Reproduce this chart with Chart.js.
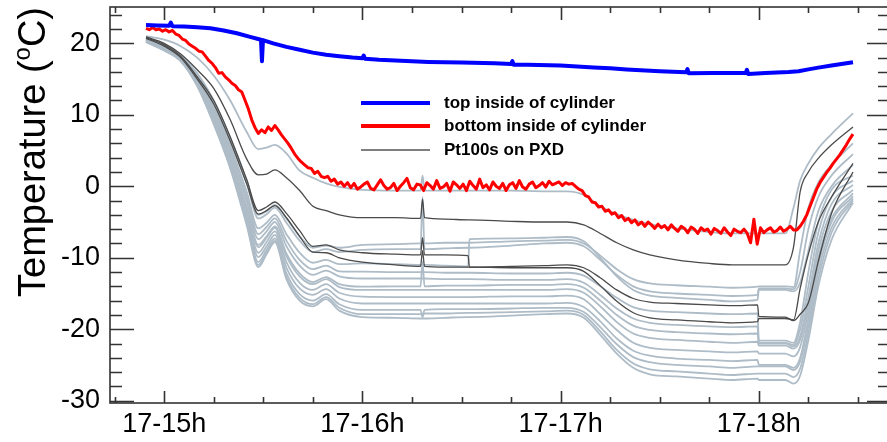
<!DOCTYPE html>
<html>
<head>
<meta charset="utf-8">
<script src="https://cdn.jsdelivr.net/npm/chart.js@4.4.1/dist/chart.umd.min.js"></script>
<style>
  html, body { margin: 0; padding: 0; background: #fff; overflow: hidden; }
  #wrap { position: relative; width: 889px; height: 442px; }
</style>
</head>
<body>
<div id="wrap"><canvas id="chart"></canvas></div>
<script>
// time is minutes since 14:00 on day 17
const hourTicks = [60, 120, 180, 240];
const hourLabels = ['17-15h', '17-16h', '17-17h', '17-18h'];
const yTicks = [-30, -20, -10, 0, 10, 20];

// blue: top inside of cylinder
const topTimes = [54.5, 58, 61.5, 62, 62.5, 66, 70, 74, 78, 82, 86, 89.3, 89.6, 89.9, 93, 97, 101, 105, 109, 113, 117, 120, 120.4, 120.8, 125, 130, 140, 150, 160, 165, 165.4, 165.8, 170, 180, 185, 190, 195, 200, 210, 218, 218.4, 218.8, 226, 232, 236, 236.4, 236.8, 242, 249, 252, 255, 258, 262, 265, 268.5];
const topTemp = [22.55, 22.5, 22.45, 22.9, 22.4, 22.35, 22.25, 22.1, 21.8, 21.4, 20.9, 20.5, 17.5, 20.45, 20.0, 19.5, 19.1, 18.7, 18.4, 18.2, 18.0, 17.9, 18.3, 17.85, 17.7, 17.6, 17.4, 17.3, 17.2, 17.1, 17.5, 17.0, 17.0, 16.9, 16.75, 16.6, 16.5, 16.35, 16.1, 15.95, 16.4, 15.8, 15.85, 15.85, 15.85, 16.3, 15.7, 15.85, 16.0, 16.1, 16.35, 16.6, 16.9, 17.1, 17.35];

// red: bottom inside of cylinder, one reading per minute from 14:54.5
const bottomStart = 54.5;
const bottomStep = 1;
const bottomTemp = [
  22.1, 21.9, 22.2, 21.9, 22.0, 21.7, 21.9, 21.6, 21.8, 21.3,
  21.1, 20.6, 20.4, 19.9, 19.6, 19.3, 18.9, 18.8, 18.2, 17.6,
  17.2, 16.6, 15.8, 15.9, 15.3, 14.9, 14.4, 14.1, 13.5, 13.2,
  12.0, 10.8, 9.3, 8.2, 7.4, 7.9, 7.5, 8.3, 7.8, 8.5,
  7.9, 7.2, 6.6, 6.0, 5.3, 4.5, 3.9, 3.4, 3.0, 2.6,
  2.5, 1.8, 2.1, 1.4, 1.2, 1.4, 0.7, 1.0, 0.3, 0.6,
  0.0, 0.5, -0.2, 0.4, -0.4,
  -0.1, 0.3, 0.6, -0.3, -0.5, 0.2, 0.9, 0.1, -0.4, -0.2,
  0.4, -0.6, 0.0, 0.5, 1.1, -0.2, -0.5, 0.3, 0.2, -0.6,
  0.5, 0.1, -0.4, 0.8, -0.3, -0.1, 0.4, -0.7, 0.6, 0.2,
  -0.3, 0.3, -0.6, 0.7, 0.1, -0.4, 1.0, -0.2, 0.2, -0.5,
  0.6, 0.0, -0.3, 0.4, -0.6, 0.2, 0.5, -0.3, 0.8, -0.1,
  -0.4, 0.3, 0.6, -0.2, 0.1, 0.5, -0.1, 0.7, 0.2, 0.4,
  0.6, 0.1, 0.5, 0.3, 0.4, 0.0,
  -0.4, -0.6, -1.3, -1.5, -2.2, -2.3, -2.9, -2.8, -3.5, -3.3,
  -3.9, -3.7, -4.4, -4.1, -4.8, -4.5, -5.1, -4.7, -5.4, -5.0,
  -5.6, -5.0, -5.4, -5.9, -5.3, -5.8, -5.5, -6.1, -5.4, -5.9,
  -6.3, -5.6, -5.9, -6.5, -5.7, -6.0, -6.6, -5.8, -6.2, -6.0,
  -6.7, -5.9, -6.2, -6.6, -5.8, -6.4, -6.9, -6.0, -6.3, -6.5,
  -6.0, -6.6, -7.9, -4.6, -8.1, -5.8, -6.5, -6.1, -5.8, -6.4,
  -6.2, -5.7, -6.3, -6.0, -5.6, -6.1,
  -6.1, -5.6, -4.9, -4.0, -2.8, -1.6, -0.4, 0.5, 1.2, 1.9,
  2.5, 3.2, 3.8, 4.4, 5.1, 5.8, 6.6, 7.3
];

// Pt100 sensors on the PXD
const pxdTimes = [54.5, 60, 65, 70, 75, 80, 85, 88.5, 91, 93.5, 97, 101, 105, 109, 113, 120, 130, 137.6, 138.2, 138.8, 145, 152, 152.4, 165, 175, 182, 187, 192, 197, 202, 207, 215, 225, 232, 239.6, 240, 248, 250.5, 252.5, 255, 258, 262, 268.5];

const dark1 = [20.9, 20.0, 18.5, 16.3, 13.7, 9.3, 3.8, 1.6, 1.7, 2.3, 1.2, -0.6, -2.8, -3.4, -4.0, -4.4, -4.4, -4.5, -1.8, -4.4, -4.6, -4.7, -4.7, -4.9, -5.0, -5.0, -5.4, -6.6, -7.9, -8.9, -9.6, -10.3, -10.8, -11.0, -11.0, -11.0, -11.0, -8.5, -0.8, 2.0, 3.9, 5.8, 8.3];
const dark2 = [20.8, 19.8, 18.2, 15.3, 12.0, 6.9, 0.9, -3.4, -2.9, -2.2, -3.8, -6.2, -8.4, -8.2, -8.9, -9.3, -9.5, -9.6, -7.2, -9.6, -9.6, -9.7, -11.3, -11.2, -11.1, -11.0, -11.4, -12.8, -14.5, -15.7, -16.2, -16.4, -16.6, -16.7, -16.6, -18.2, -18.3, -18.8, -17.9, -16.3, -10.5, -3.8, 2.0];
const dark3 = [20.7, 19.6, 18.0, 15.0, 11.5, 6.3, 0.3, -3.9, -3.4, -2.7, -4.4, -7.0, -9.2, -9.3, -10.0, -10.6, -11.0, -11.2, -9.0, -11.2, -11.3, -11.3, -11.3, -11.4, -11.4, -11.4, -11.9, -13.9, -16.1, -17.7, -18.4, -18.7, -18.95, -19.1, -18.95, -18.5, -18.5, -18.7, -14.3, -9.5, -5.0, -1.5, 3.2];

const light01 = [21.0, 20.5, 19.6, 18.0, 15.5, 12.0, 7.6, 5.2, 5.4, 5.8, 4.6, 2.2, 1.2, 0.4, -0.1, -0.5, -0.6, -0.6, 1.5, -0.6, -0.6, -0.6, -0.6, -0.6, -0.7, -0.7, -1.2, -2.8, -3.9, -4.7, -5.3, -5.9, -6.4, -6.6, -6.6, -6.6, -6.6, -3.0, 0.8, 3.2, 5.3, 7.3, 10.2];
const light02 = [20.7, 19.8, 18.3, 15.8, 12.0, 6.8, 0.8, -4.0, -3.5, -2.6, -4.5, -7.0, -8.6, -8.3, -8.6, -8.2, -8.1, -8.0, -8.0, -8.0, -7.9, -7.9, -7.9, -7.7, -7.6, -7.5, -8.0, -9.7, -11.6, -13.0, -13.6, -13.85, -14.05, -14.2, -14.05, -14.0, -14.0, -14.1, -9.0, -3.0, 0.5, 3.0, 6.0];
const light03 = [20.7, 19.7, 18.2, 15.7, 11.8, 6.5, 0.4, -4.5, -3.9, -3.0, -5.1, -7.6, -9.2, -8.8, -9.2, -8.9, -8.8, -8.8, -1.5, -8.8, -8.7, -8.6, -8.6, -8.3, -8.0, -7.9, -8.4, -10.3, -12.4, -14.0, -14.7, -15.0, -15.2, -15.35, -15.2, -14.3, -14.3, -14.4, -12.0, -6.0, -1.5, 1.5, 4.5];
const light04 = [20.6, 19.6, 18.1, 15.3, 11.1, 5.7, -0.8, -5.9, -5.1, -4.0, -6.7, -9.3, -10.7, -10.3, -10.9, -10.8, -10.9, -11.0, -11.0, -11.0, -11.1, -11.2, -7.4, -7.3, -7.2, -7.1, -7.7, -10.0, -12.6, -14.5, -15.3, -15.6, -15.9, -16.1, -15.9, -14.5, -14.5, -14.7, -13.5, -9.0, -3.5, 0.0, 3.0];
const light05 = [20.5, 19.5, 18.0, 15.1, 10.8, 5.2, -1.5, -6.7, -5.7, -4.5, -7.6, -10.3, -11.6, -11.1, -11.9, -11.95, -12.0, -12.0, -12.0, -12.0, -12.1, -12.1, -12.1, -12.2, -12.2, -12.1, -12.5, -14.0, -15.6, -16.9, -17.4, -17.6, -17.8, -17.9, -17.8, -21.6, -21.6, -21.9, -19.0, -12.0, -5.0, -0.5, 1.5];
const light06 = [20.5, 19.4, 17.9, 15.0, 10.5, 4.8, -2.1, -7.4, -6.3, -5.0, -8.4, -11.1, -12.4, -11.8, -12.6, -12.9, -12.9, -12.9, -12.9, -12.9, -13.0, -13.0, -13.0, -13.1, -13.1, -13.0, -13.5, -15.2, -17.1, -18.5, -19.1, -19.4, -19.6, -19.7, -19.6, -21.9, -21.9, -22.2, -20.0, -14.0, -6.5, -1.5, 0.8];
const light07 = [20.4, 19.3, 17.8, 14.8, 10.1, 4.3, -2.9, -8.2, -7.0, -5.6, -9.4, -12.2, -13.4, -12.7, -13.7, -14.05, -14.0, -14.0, -10.5, -14.0, -13.9, -13.9, -13.9, -13.8, -13.8, -13.7, -14.2, -16.0, -18.0, -19.5, -20.1, -20.4, -20.6, -20.7, -20.6, -22.0, -22.0, -22.4, -21.0, -15.5, -8.0, -2.5, 0.2];
const light08 = [20.4, 19.3, 17.8, 14.7, 10.0, 4.1, -3.1, -8.5, -7.2, -5.8, -9.8, -12.6, -13.7, -13.0, -14.1, -14.5, -14.5, -14.5, -14.5, -14.5, -14.5, -14.5, -14.5, -14.5, -14.5, -14.4, -14.9, -16.8, -19.0, -20.6, -21.2, -21.5, -21.75, -21.9, -21.75, -22.3, -22.3, -22.7, -21.5, -16.5, -9.0, -3.5, -0.5];
const light09 = [20.3, 19.2, 17.7, 14.5, 9.6, 3.7, -3.7, -9.3, -7.8, -6.3, -10.6, -13.5, -14.5, -13.7, -14.9, -15.45, -15.5, -15.5, -15.5, -15.5, -15.5, -15.5, -15.5, -15.4, -15.4, -15.3, -15.8, -17.9, -20.1, -21.9, -22.6, -22.9, -23.1, -23.25, -23.1, -23.4, -23.4, -23.8, -22.5, -17.5, -10.0, -4.5, -1.0];
const light10 = [20.3, 19.2, 17.6, 14.3, 9.3, 3.3, -4.3, -9.9, -8.4, -6.8, -11.4, -14.3, -15.2, -14.4, -15.7, -16.4, -16.4, -16.4, -16.4, -16.4, -16.4, -16.4, -16.4, -16.4, -16.4, -16.3, -16.9, -18.9, -21.3, -23.0, -23.7, -24.1, -24.3, -24.45, -24.3, -25.0, -25.0, -25.4, -24.0, -18.5, -11.0, -5.0, -1.4];
const light11 = [20.25, 19.1, 17.6, 14.2, 9.0, 2.9, -4.9, -10.6, -8.9, -7.3, -12.2, -15.1, -16.0, -15.1, -16.5, -17.3, -17.3, -17.3, -18.3, -17.3, -17.2, -17.2, -17.2, -17.1, -17.0, -17.0, -17.6, -19.7, -22.1, -23.9, -24.6, -25.0, -25.2, -25.4, -25.2, -25.2, -25.2, -25.7, -24.5, -19.5, -12.0, -5.8, -1.7];
const light12 = [20.2, 19.0, 17.5, 14.1, 8.8, 2.7, -5.2, -11.0, -9.3, -7.6, -12.7, -15.6, -16.5, -15.5, -17.0, -17.9, -17.9, -17.9, -17.9, -17.8, -17.8, -17.7, -17.7, -17.6, -17.5, -17.4, -18.0, -20.3, -22.9, -24.8, -25.6, -25.9, -26.2, -26.4, -26.2, -26.2, -26.2, -26.7, -25.5, -20.5, -13.0, -6.5, -2.0];
const light13 = [20.2, 19.0, 17.5, 14.0, 8.7, 2.5, -5.5, -11.3, -9.5, -7.8, -13.0, -16.0, -16.8, -15.8, -17.4, -18.3, -18.4, -18.5, -18.5, -18.5, -18.4, -18.3, -18.3, -18.1, -17.9, -17.8, -18.4, -20.8, -23.4, -25.4, -26.3, -26.6, -26.9, -27.1, -26.9, -27.1, -27.1, -27.6, -26.5, -21.5, -14.0, -7.5, -2.3];

const darkLines = [dark1, dark2, dark3];
const lightLines = [light01, light02, light03, light04, light05, light06, light07, light08, light09, light10, light11, light12, light13];

const FONT = '"Liberation Sans", Arial, Helvetica, sans-serif';
const BLUE = '#0000ff';
const RED = '#ff0000';
const DARK = '#4a4a4a';
const LIGHT = '#aebcc7';

const pxdPoints = vals => pxdTimes.map((t, i) => ({ x: t, y: vals[i] }));

const datasets = [
  {
    label: 'top inside of cylinder',
    data: topTimes.map((t, i) => ({ x: t, y: topTemp[i] })),
    borderColor: BLUE, borderWidth: 4
  },
  {
    label: 'bottom inside of cylinder',
    data: bottomTemp.map((v, i) => ({ x: bottomStart + i * bottomStep, y: v })),
    borderColor: RED, borderWidth: 3
  }
];
darkLines.forEach((vals, i) => datasets.push({
  label: i === 0 ? 'Pt100s on PXD' : '',
  data: pxdPoints(vals),
  borderColor: DARK, borderWidth: 1.3, cubicInterpolationMode: 'monotone'
}));
lightLines.forEach(vals => datasets.push({
  label: '',
  data: pxdPoints(vals),
  borderColor: LIGHT, borderWidth: 1.8, cubicInterpolationMode: 'monotone'
}));

// legend entries drawn inside the frame
const legendItems = [
  { text: 'top inside of cylinder', color: BLUE, width: 4 },
  { text: 'bottom inside of cylinder', color: RED, width: 4 },
  { text: 'Pt100s on PXD', color: '#555', width: 1.5 }
];

// ROOT style frame: ticks pointing inwards on all four sides, legend, axis title
const rootFrame = {
  id: 'rootFrame',
  afterDraw(chart) {
    const { ctx, chartArea: a, scales: { x, y } } = chart;
    ctx.save();
    ctx.strokeStyle = '#333';
    ctx.lineWidth = 1.6;
    ctx.strokeRect(a.left, a.top, a.right - a.left, a.bottom - a.top);

    ctx.beginPath();
    for (let v = -30; v <= 24; v += 2) {
      const py = Math.round(y.getPixelForValue(v)) + 0.5;
      const major = v % 10 === 0;
      ctx.moveTo(a.left, py); ctx.lineTo(a.left + (major ? 24 : 12), py);
      ctx.moveTo(a.right, py); ctx.lineTo(a.right - (major ? 22 : 11), py);
    }
    for (let m = 45; m <= 270; m += 15) {
      const px = Math.round(x.getPixelForValue(m)) + 0.5;
      const major = m % 60 === 0;
      ctx.moveTo(px, a.bottom); ctx.lineTo(px, a.bottom - (major ? 12 : 6));
      ctx.moveTo(px, a.top); ctx.lineTo(px, a.top + (major ? 13 : 6));
    }
    ctx.stroke();

    // legend
    ctx.font = 'bold 17px ' + FONT;
    ctx.textBaseline = 'middle';
    ctx.fillStyle = '#000';
    const rows = [103, 126, 150];
    legendItems.forEach((it, i) => {
      ctx.strokeStyle = it.color;
      ctx.lineWidth = it.width;
      ctx.beginPath();
      ctx.moveTo(361, rows[i]); ctx.lineTo(430, rows[i]);
      ctx.stroke();
      ctx.fillText(it.text, 444, rows[i]);
    });

    // y axis title with superscript o
    const big = '38px ' + FONT, small = '24px ' + FONT;
    const p1 = 'Temperature (', p2 = 'o', p3 = 'C)';
    ctx.font = big; const w1 = ctx.measureText(p1).width, w3 = ctx.measureText(p3).width;
    ctx.font = small; const w2 = ctx.measureText(p2).width;
    const total = w1 + w2 + w3;
    ctx.translate(45, 152);
    ctx.rotate(-Math.PI / 2);
    ctx.textBaseline = 'alphabetic';
    ctx.textAlign = 'left';
    let cx = -total / 2;
    ctx.font = big; ctx.fillText(p1, cx, 0); cx += w1;
    ctx.font = small; ctx.fillText(p2, cx, -15); cx += w2;
    ctx.font = big; ctx.fillText(p3, cx, 0);
    ctx.restore();
  }
};

new Chart(document.getElementById('chart'), {
  type: 'line',
  data: { datasets },
  options: {
    responsive: true,
    maintainAspectRatio: false,
    animation: false,
    parsing: false,
    elements: { point: { radius: 0 }, line: { tension: 0, borderJoinStyle: 'round' } },
    layout: { padding: { top: 7, right: 0, bottom: 0, left: 0 } },
    plugins: { legend: { display: false }, tooltip: { enabled: false } },
    scales: {
      x: {
        type: 'linear',
        bounds: 'data',
        min: 43.6,
        max: 279.4,
        grid: { display: false, drawTicks: false },
        border: { display: false },
        afterBuildTicks: s => { s.ticks = hourTicks.map(v => ({ value: v })); },
        afterFit: s => { s.height = 39; s.paddingLeft = 0; s.paddingRight = 0; },
        ticks: {
          autoSkip: false, maxRotation: 0, padding: 5, color: '#000',
          font: { family: FONT, size: 27 },
          callback: (v, i) => hourLabels[i]
        }
      },
      y: {
        type: 'linear',
        bounds: 'data',
        min: -30.32,
        max: 25.08,
        grid: { display: false, drawTicks: false },
        border: { display: false },
        afterBuildTicks: s => { s.ticks = yTicks.map(v => ({ value: v })); },
        afterFit: s => { s.width = 110; s.paddingTop = 0; s.paddingBottom = 0; },
        ticks: {
          padding: 10, color: '#000',
          font: { family: FONT, size: 27 }
        }
      }
    }
  },
  plugins: [rootFrame]
});
</script>
</body>
</html>
